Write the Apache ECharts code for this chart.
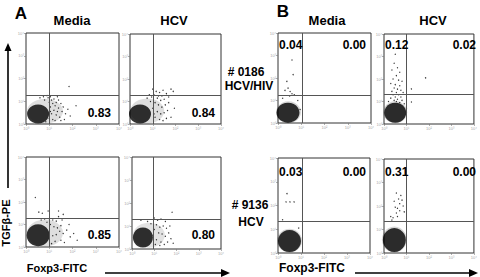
<!DOCTYPE html>
<html>
<head>
<meta charset="utf-8">
<script src="https://cdn.jsdelivr.net/npm/echarts@6/dist/echarts.min.js"></script>
<style>
  html, body { margin: 0; padding: 0; background: #fff; }
  #chart { width: 480px; height: 277px; }
</style>
</head>
<body>
<div id="chart"></div>
<script>
// axes are in decades of fluorescence (10^0 .. 10^4)
const decadeTicks = ['10⁰', '10¹', '10²', '10³', '10⁴'];

// panel order: A Media, A HCV, A Media (row 2), A HCV (row 2), B 0186 Media, B 0186 HCV, B 9136 Media, B 9136 HCV
const gateX = [0.99, 1.01, 0.99, 0.94, 1.03, 1.01, 1.04, 1.01];
const gateY = [1.27, 1.29, 1.29, 1.30, 1.24, 1.33, 1.35, 1.36];

// centre of the dense negative population
const coreCenter = [[0.52, 0.44], [0.44, 0.44], [0.52, 0.52], [0.49, 0.50],
                    [0.43, 0.46], [0.50, 0.50], [0.50, 0.50], [0.46, 0.55]];
const haloCenter = [[0.82, 0.56], [0.76, 0.58], [0.82, 0.62], [0.76, 0.6],
                    [0.45, 0.48], [0.50, 0.52], [0.50, 0.52], [0.46, 0.57]];

// percentages per quadrant
const lowerRight = ['0.83', '0.84', '0.85', '0.80'];
const upperLeft = ['0.04', '0.12', '0.03', '0.31'];
const upperRight = ['0.00', '0.02', '0.00', '0.00'];

// scattered events
const dotsA1 = [[0.95,1.15],[1.05,1.2],[1.1,1.05],[1.2,1.1],[1.0,0.95],[1.15,0.9],[1.3,0.95],[1.25,0.8],[1.05,0.75],[1.4,0.7],[1.35,0.55],[1.2,0.6],[1.1,0.45],[1.3,0.4],[1.45,0.3],[1.0,0.25],[1.15,0.2],[1.55,0.55],[1.6,0.75],[1.5,0.9],[1.7,0.45],[1.65,0.2],[1.4,1.05],[0.9,1.25],[0.75,1.2],[0.6,1.15],[1.8,0.65],[2.15,0.8],[1.85,1.65],[1.25,0.15],[0.85,0.1],[1.05,0.55],[1.5,0.15],[1.9,0.35],[0.8,1.05],[1.35,1.2]];
const dotsA2 = [[0.95,1.2],[1.05,1.3],[1.15,1.45],[1.3,1.4],[1.45,1.5],[1.6,1.35],[1.8,1.55],[1.9,1.45],[1.2,1.15],[1.35,1.05],[1.5,1.1],[1.1,0.95],[1.25,0.85],[1.4,0.75],[1.55,0.85],[1.7,0.95],[1.0,0.7],[1.2,0.55],[1.35,0.45],[1.5,0.5],[1.65,0.6],[1.8,0.3],[1.1,0.3],[1.3,0.2],[1.45,0.15],[0.9,1.0],[0.75,1.15],[1.0,1.55],[1.6,0.25],[1.95,0.7],[1.25,1.25],[0.85,1.3],[1.4,1.25],[1.05,0.45],[1.7,1.2]];
const dotsA3 = [[0.4,2.2],[0.55,1.55],[0.7,1.5],[0.95,1.6],[1.4,1.6],[1.6,1.45],[1.0,1.25],[1.15,1.2],[1.3,1.15],[0.9,1.1],[1.05,1.0],[1.2,0.9],[1.35,0.85],[1.5,0.95],[1.45,0.7],[1.6,0.6],[1.75,0.75],[1.3,0.55],[1.15,0.5],[1.0,0.35],[1.25,0.25],[1.5,0.3],[1.65,0.2],[1.9,0.45],[2.05,0.6],[2.2,0.3],[1.1,0.15],[0.8,1.25],[0.65,1.2],[1.85,1.0],[1.4,1.35],[1.55,1.2]];
const dotsA4 = [[1.0,1.35],[1.15,1.25],[1.3,1.3],[1.5,1.2],[1.8,1.6],[1.1,1.05],[1.25,0.95],[1.4,1.0],[1.55,0.9],[1.0,0.85],[1.2,0.7],[1.35,0.65],[1.5,0.55],[1.65,0.7],[1.75,0.45],[1.1,0.4],[1.3,0.3],[1.45,0.2],[1.6,0.3],[0.95,0.6],[1.85,0.25],[0.85,1.1],[0.7,1.2],[1.05,0.2],[1.25,0.15],[1.7,1.0],[0.4,1.25]];
const dotsB1 = [[0.6,2.8],[0.65,2.15],[0.43,1.55],[0.52,1.4],[0.38,1.85],[0.6,1.3],[0.3,1.45],[0.7,1.25],[0.5,1.2],[0.85,1.0],[0.95,0.6],[0.2,1.1]];
const dotsB2 = [[0.5,3.1],[0.45,2.7],[0.6,2.5],[0.35,2.4],[0.7,2.3],[0.55,2.15],[0.4,2.0],[0.65,1.95],[0.8,1.9],[0.3,1.8],[0.5,1.75],[0.7,1.7],[0.45,1.6],[0.6,1.55],[0.75,1.5],[0.35,1.45],[0.55,1.4],[0.85,1.4],[0.4,1.3],[0.65,1.3],[0.5,1.2],[0.75,1.2],[0.3,1.15],[0.6,1.1],[0.45,1.05],[0.8,1.05],[0.55,1.0],[0.7,0.95],[0.9,0.9],[1.85,2.05],[1.22,1.56],[1.22,0.98],[1.0,0.7],[0.2,1.0]];
const dotsB3 = [[0.39,2.5],[0.35,2.15],[0.52,2.15],[0.7,2.15],[0.2,1.4],[0.9,1.05]];
const dotsB4 = [[0.4,1.5],[0.3,1.55],[0.55,1.7],[0.6,1.9],[0.5,1.95],[0.7,2.1],[0.65,2.3],[0.75,2.45],[0.8,2.25],[0.55,2.55],[0.45,2.2],[0.7,1.8],[0.85,2.0],[0.35,1.4],[0.6,1.55],[0.9,1.75]];
const dots = [dotsA1, dotsA2, dotsA3, dotsA4, dotsB1, dotsB2, dotsB3, dotsB4];

// layout
const boxes = [
  {left: 26, top: 33, width: 93, height: 91},
  {left: 130, top: 34, width: 91, height: 90},
  {left: 26, top: 157, width: 93, height: 90},
  {left: 132, top: 157, width: 89, height: 92},
  {left: 278, top: 33, width: 93, height: 90},
  {left: 384, top: 34, width: 94, height: 90},
  {left: 278, top: 158, width: 92, height: 95},
  {left: 384, top: 159, width: 94, height: 94}
];
const coreSize = [[22, 19], [22, 19], [23, 22], [20, 20], [23, 20], [22, 20], [23, 22], [23, 24]];
const haloSize = [[36, 25], [34, 25], [36, 27], [32, 25], [25, 22], [24, 22], [25, 24], [25, 26]];
const haloAlpha = [0.16, 0.16, 0.16, 0.14, 0.2, 0.2, 0.2, 0.2];

const FONT = '"Liberation Sans", Arial, sans-serif';

function axisCommon(i) {
  return {
    gridIndex: i, type: 'value', min: 0, max: 4, interval: 1,
    axisLine: {show: false},
    axisTick: {show: true, length: 2, lineStyle: {color: '#777', width: 0.6}},
    minorTick: {show: true, splitNumber: 5, length: 1, lineStyle: {color: '#999', width: 0.5}},
    splitLine: {show: false},
    axisLabel: {show: true, fontSize: 4, color: '#aaa', margin: 2, formatter: v => decadeTicks[v]}
  };
}

const grid = [], xAxis = [], yAxis = [], series = [];
boxes.forEach((b, i) => {
  grid.push(Object.assign({show: true, borderColor: '#333', borderWidth: 1}, b));
  xAxis.push(axisCommon(i));
  yAxis.push(axisCommon(i));
  series.push({
    type: 'scatter', xAxisIndex: i, yAxisIndex: i, silent: true,
    data: [haloCenter[i]], symbolSize: haloSize[i],
    itemStyle: {color: 'rgba(0,0,0,' + haloAlpha[i] + ')'},
    markLine: {
      silent: true, symbol: 'none', label: {show: false},
      lineStyle: {color: '#555', width: 1, type: 'solid'},
      data: [{xAxis: gateX[i]}, {yAxis: gateY[i]}]
    }
  });
  series.push({
    type: 'scatter', xAxisIndex: i, yAxisIndex: i, silent: true,
    data: [coreCenter[i]], symbolSize: coreSize[i],
    itemStyle: {color: '#000'}
  });
  series.push({
    type: 'scatter', xAxisIndex: i, yAxisIndex: i, silent: true,
    data: dots[i], symbolSize: 1.3,
    itemStyle: {color: '#000'}
  });
});

function txt(x, y, text, size, align, extra) {
  return Object.assign({
    type: 'text', x: x, y: y, z: 100,
    style: {text: text, font: 'bold ' + size + 'px ' + FONT, fill: '#000', align: align || 'center', verticalAlign: 'middle'}
  }, extra || {});
}

const graphic = [
  txt(21, 13, 'A', 17),
  txt(283, 11, 'B', 17),
  txt(72, 20, 'Media', 13),
  txt(174, 20, 'HCV', 13),
  txt(327, 20, 'Media', 13),
  txt(433, 20, 'HCV', 13),
  txt(246, 72, '# 0186', 12),
  txt(249, 86, 'HCV/HIV', 12),
  txt(250, 205, '# 9136', 12),
  txt(251, 222, 'HCV', 12),
  txt(111, 113, lowerRight[0], 12, 'right'),
  txt(215, 113, lowerRight[1], 12, 'right'),
  txt(111, 235, lowerRight[2], 12, 'right'),
  txt(215, 235, lowerRight[3], 12, 'right'),
  txt(279, 45, upperLeft[0], 12, 'left'),
  txt(385, 45, upperLeft[1], 12, 'left'),
  txt(279, 172, upperLeft[2], 12, 'left'),
  txt(385, 172, upperLeft[3], 12, 'left'),
  txt(366, 45, upperRight[0], 12, 'right'),
  txt(476, 45, upperRight[1], 12, 'right'),
  txt(366, 172, upperRight[2], 12, 'right'),
  txt(476, 172, upperRight[3], 12, 'right'),
  txt(57, 268, 'Foxp3-FITC', 11),
  txt(312, 268, 'Foxp3-FITC', 12),
  txt(6, 223, 'TGFβ-PE', 11, 'center', {rotation: Math.PI / 2}),
  // arrows
  {type: 'line', shape: {x1: 8, y1: 188, x2: 8, y2: 50}, style: {stroke: '#000', lineWidth: 1.6}},
  {type: 'polygon', shape: {points: [[8, 43], [4.5, 51], [11.5, 51]]}, style: {fill: '#000'}},
  {type: 'line', shape: {x1: 105, y1: 273, x2: 223, y2: 273}, style: {stroke: '#000', lineWidth: 1.6}},
  {type: 'polygon', shape: {points: [[230, 273], [221, 269], [221, 277]]}, style: {fill: '#000'}},
  {type: 'line', shape: {x1: 355, y1: 273, x2: 471, y2: 273}, style: {stroke: '#000', lineWidth: 1.6}},
  {type: 'polygon', shape: {points: [[478, 273], [469, 269], [469, 277]]}, style: {fill: '#000'}}
];

const chart = echarts.init(document.getElementById('chart'), null, {renderer: 'svg'});
chart.setOption({
  animation: false,
  backgroundColor: '#fff',
  grid: grid,
  xAxis: xAxis,
  yAxis: yAxis,
  series: series,
  graphic: graphic
});
</script>
</body>
</html>
